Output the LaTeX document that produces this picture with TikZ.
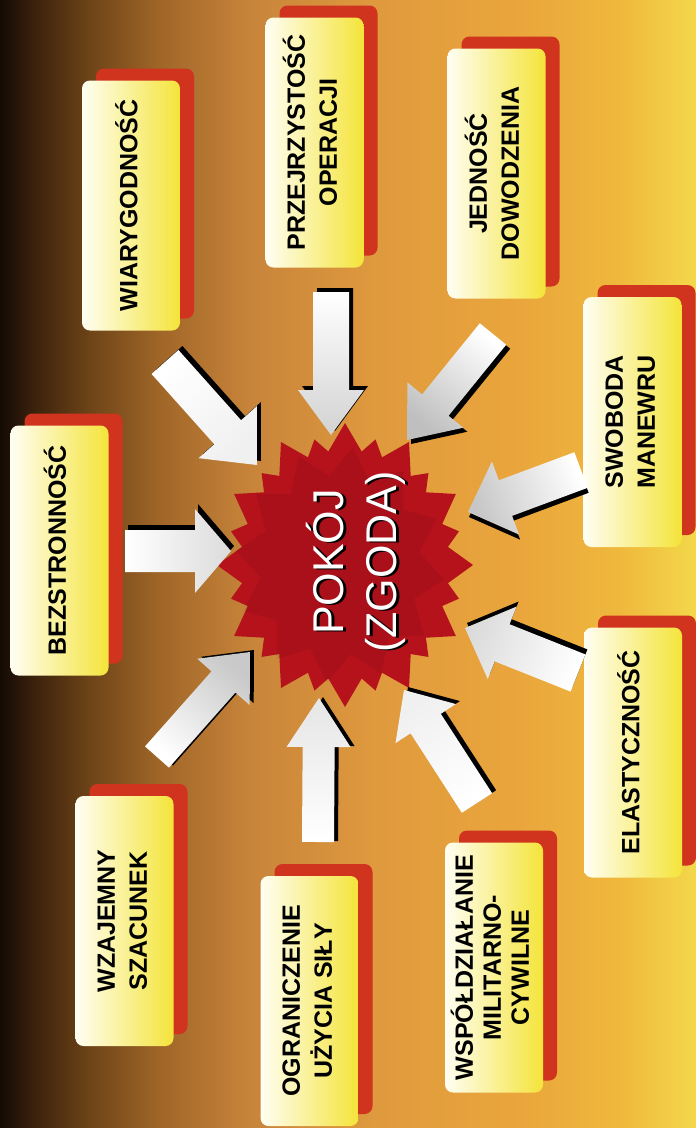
\documentclass[tikz,border=0pt]{standalone}
\usepackage{fontspec}
\usepackage{graphicx}
\setmainfont{Liberation Sans}
\usetikzlibrary{calc,shadows}
\definecolor{boxred}{HTML}{D0341E}
\definecolor{boxyel}{HTML}{F4E43A}
\definecolor{boxmid}{HTML}{FAF2A0}
\definecolor{boxcream}{HTML}{FFFEF2}
\definecolor{starred}{HTML}{B5121C}
\definecolor{bg0}{HTML}{140A04}
\definecolor{bg1}{HTML}{3C220C}
\definecolor{bg2}{HTML}{6E4418}
\definecolor{bg3}{HTML}{A06628}
\definecolor{bg4}{HTML}{C8843A}
\definecolor{bg5}{HTML}{E09A3E}
\definecolor{bg6}{HTML}{EAA63C}
\definecolor{bg7}{HTML}{EFB83C}
\definecolor{bg8}{HTML}{F3D84A}
\pgfdeclarehorizontalshading{bgshade}{100bp}{color(0bp)=(bg0); color(25bp)=(bg0); color(27.5bp)=(bg1); color(31.5bp)=(bg2); color(36.5bp)=(bg3); color(43bp)=(bg4); color(52.3bp)=(bg5); color(62.4bp)=(bg6); color(69.5bp)=(bg7); color(75bp)=(bg8); color(100bp)=(bg8)}
\newcommand\boxlbl[2][32]{\rotatebox{90}{\fontsize{25}{#1}\selectfont\bfseries\begin{tabular}{@{}c@{}}#2\end{tabular}}}
% #1 tail, #2 tip, #3 shaft half width, #4 head half width, #5 head length, #6 shadow offset, #7 shading angle, #8 gray amount
\newcommand\fatarrow[8]{%
  \coordinate (fa-b) at ($(#2)!#5pt!(#1)$);
  \fill[black, transform canvas={shift={(#6)}}] ($(#1)!#3pt!90:(#2)$) -- ($(fa-b)!#3pt!90:(#2)$) -- ($(fa-b)!#4pt!90:(#2)$) -- (#2) -- ($(fa-b)!#4pt!-90:(#2)$) -- ($(fa-b)!#3pt!-90:(#2)$) -- ($(#1)!#3pt!-90:(#2)$) -- cycle;
  \shade[top color=white, bottom color=gray!#8, shading angle=#7] ($(#1)!#3pt!90:(#2)$) -- ($(fa-b)!#3pt!90:(#2)$) -- ($(fa-b)!#4pt!90:(#2)$) -- (#2) -- ($(fa-b)!#4pt!-90:(#2)$) -- ($(fa-b)!#3pt!-90:(#2)$) -- ($(#1)!#3pt!-90:(#2)$) -- cycle;
}
\tikzset{
  conceptbox/.style={rounded corners=8pt, minimum width=98pt, minimum height=250pt, inner sep=0pt,
    left color=boxcream, middle color=boxmid, right color=boxyel,
    drop shadow={shadow xshift=14pt, shadow yshift=12pt, fill=boxred, opacity=1}},
  peacetext/.style={rotate=90, align=center, font=\fontsize{43}{53}\selectfont},
}
\begin{document}
\begin{tikzpicture}[x=1pt, y=-1pt]
\useasboundingbox (0,0) rectangle (696,1128);
\shade[shading=bgshade] (0,0) rectangle (696,1128);

% star
\fill[starred, shift={(345,565)}] (105:118 and 130) \foreach \i in {0,...,11}{ -- ({105+30*\i}:118 and 130) -- ({120+30*\i}:90 and 99)} -- cycle;
\fill[starred, shift={(345,565)}] (90:128 and 142) \foreach \i in {0,...,11}{ -- ({90+30*\i}:128 and 142) -- ({105+30*\i}:94 and 104)} -- cycle;
\fill[black, opacity=0.06, shift={(340,565)}] (97:105 and 118) \foreach \i in {0,...,11}{ -- ({97+30*\i}:105 and 118) -- ({112+30*\i}:80 and 90)} -- cycle;

% boxes
\node[conceptbox] (wiary) at (131,205.5) {\boxlbl{WIARYGODNOŚĆ}};
\node[conceptbox] (przej) at (314.5,142.5) {\boxlbl{PRZEJRZYSTOŚĆ\\OPERACJI}};
\node[conceptbox] (jedn) at (496.5,173.5) {\boxlbl{JEDNOŚĆ\\DOWODZENIA}};
\node[conceptbox] (swob) at (632.5,422) {\boxlbl{SWOBODA\\MANEWRU}};
\node[conceptbox] (bezs) at (59.5,550.5) {\boxlbl{BEZSTRONNOŚĆ}};
\node[conceptbox] (elas) at (633,752.5) {\boxlbl{ELASTYCZNOŚĆ}};
\node[conceptbox] (wzaj) at (124.5,921) {\boxlbl{WZAJEMNY\\SZACUNEK}};
\node[conceptbox] (ogra) at (309.5,1001) {\boxlbl{OGRANICZENIE\\UŻYCIA SIŁY}};
\node[conceptbox] (wspo) at (494,967.5) {\boxlbl[28]{WSPÓŁDZIAŁANIE\\MILITARNO-\\CYWILNE}};

% arrow ends
\coordinate (t1) at (165,362); \coordinate (p1) at (257,465);
\coordinate (t2) at (331,292); \coordinate (p2) at (331,435);
\coordinate (t3) at (493,334); \coordinate (p3) at (407,440);
\coordinate (t4) at (581,470); \coordinate (p4) at (468,512);
\coordinate (t5) at (125,551); \coordinate (p5) at (231,551);
\coordinate (t6) at (578,673); \coordinate (p6) at (465,628);
\coordinate (t7) at (157,757); \coordinate (p7) at (250,652);
\coordinate (t8) at (318,842); \coordinate (p8) at (319,698);
\coordinate (t9) at (477,803); \coordinate (p9) at (404,690);

\fatarrow{t1}{p1}{18}{39}{44}{4,-4}{41.8}{12}
\fatarrow{t2}{p2}{18}{33}{45}{4,-4}{0}{35}
\fatarrow{t3}{p3}{17}{36}{45}{4,4}{-39}{50}
\fatarrow{t4}{p4}{19}{39}{40}{1,5}{-69.6}{45}
\fatarrow{t5}{p5}{21}{42}{36}{3,-5}{90}{28}
\fatarrow{t6}{p6}{20}{39}{40}{2,-5}{248.3}{28}
\fatarrow{t7}{p7}{16}{35}{40}{4,-2}{138.5}{42}
\fatarrow{t8}{p8}{16}{32}{49}{4,-1}{180}{20}
\fatarrow{t9}{p9}{18}{36}{40}{4,-3}{212.9}{12}

% centre text
\node[peacetext, text=black] (peaceshadow) at (358.5,563) {POKÓJ\\(ZGODA)};
\node[peacetext, text=white] (peace) at (356,562) {POKÓJ\\(ZGODA)};
\end{tikzpicture}
\end{document}
